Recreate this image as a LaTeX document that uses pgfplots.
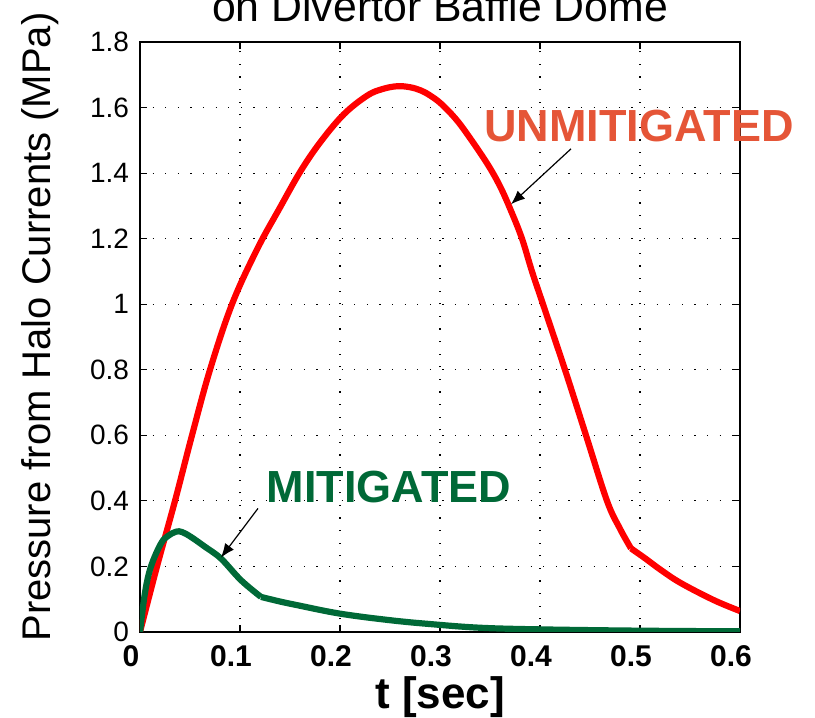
\documentclass[border=0pt]{standalone}
\usepackage{fontspec}
\setmainfont{Liberation Sans}
\usepackage{pgfplots}
\pgfplotsset{compat=1.18}
\usetikzlibrary{arrows.meta,calc}

\definecolor{unmitred}{RGB}{255,0,0}
\definecolor{mitgreen}{RGB}{0,105,55}
\definecolor{labelorange}{RGB}{229,85,55}

\begin{document}
\begin{tikzpicture}
\begin{axis}[
    name=ax,
    scale only axis,
    width=300pt, height=295pt,
    xmin=0, xmax=0.6,
    ymin=0, ymax=1.8,
    xtick={0,0.1,...,0.6},
    ytick={0,0.2,...,1.8},
    clip mode=individual,
    tick align=inside,
    major tick length=3.5pt,
    axis line style={black, line width=0.8pt},
    every tick/.style={black, line width=0.6pt},
    grid=major,
    grid style={black, line width=0.6pt, dash pattern=on 0.6pt off 5.7pt},
    /pgf/number format/assume math mode=true,
    yticklabel style={font=\fontsize{14}{14}\selectfont, xshift=-2pt},
    xticklabel style={font=\bfseries\fontsize{15}{15}\selectfont, xshift=-4.5pt, yshift=-3pt},
    xlabel={t [sec]},
    xlabel style={font=\bfseries\fontsize{22}{22}\selectfont,
        at={(axis description cs:0.5,-0.129)}, anchor=base},
    ylabel={Pressure from Halo Currents (MPa)},
    ylabel style={font=\fontsize{20}{20}\selectfont,
        at={(axis description cs:-0.1667,0.517)}, anchor=center},
]
% unmitigated, rise and fall up to the knee
\addplot[unmitred, line width=3.1pt, smooth, tension=0.6] coordinates {
    (0,0) (0.017,0.2) (0.035,0.4) (0.052,0.6) (0.070,0.8)
    (0.092,1.0) (0.117,1.167) (0.14,1.295) (0.161,1.408)
    (0.181,1.497) (0.204,1.580) (0.227,1.636) (0.242,1.656)
    (0.257,1.665) (0.270,1.662) (0.281,1.652) (0.290,1.637)
    (0.301,1.612) (0.315,1.568) (0.327,1.52) (0.347,1.43)
    (0.360,1.36) (0.371,1.285) (0.382,1.2) (0.392,1.10)
    (0.403,1.0) (0.425,0.8) (0.446,0.6) (0.467,0.4)
    (0.480,0.315) (0.491,0.255)
};
% unmitigated, tail after the knee
\addplot[unmitred, line width=3.1pt, smooth, tension=0.6] coordinates {
    (0.491,0.255) (0.505,0.225) (0.521,0.189) (0.541,0.149)
    (0.574,0.097) (0.6,0.064)
};
% mitigated, up to the knee
\addplot[mitgreen, line width=3.1pt, smooth, tension=0.6] coordinates {
    (0,0) (0.005,0.12) (0.011,0.2) (0.021,0.27) (0.028,0.293)
    (0.036,0.306) (0.042,0.305) (0.051,0.29) (0.065,0.26)
    (0.081,0.224) (0.101,0.158) (0.121,0.107)
};
% mitigated, tail
\addplot[mitgreen, line width=3.1pt, smooth, tension=0.6] coordinates {
    (0.121,0.107) (0.14,0.093)
    (0.157,0.082) (0.2,0.056) (0.25,0.036) (0.291,0.024)
    (0.34,0.013) (0.4,0.008) (0.5,0.004) (0.6,0.002)
};

\node[font=\bfseries\fontsize{22.5}{22.5}\selectfont, text=labelorange]
    at (axis cs:0.499,1.543) {UNMITIGATED};
\node[font=\bfseries\fontsize{22.5}{22.5}\selectfont, text=mitgreen]
    at (axis cs:0.249,0.441) {MITIGATED};

\draw[black, line width=0.6pt, -{Latex[length=7pt,width=5.5pt]}]
    (axis cs:0.431,1.474) -- (axis cs:0.371,1.305);
\draw[black, line width=0.6pt, -{Latex[length=7pt,width=5.5pt]}]
    (axis cs:0.118,0.377) -- (axis cs:0.081,0.227);
\end{axis}

\node[font=\fontsize{21.4}{21.4}\selectfont, anchor=base]
    at ($(ax.north west)+(150pt,10pt)$) {on Divertor Baffle Dome};

\pgfresetboundingbox
\path[use as bounding box] ($(ax.south west)+(-70pt,-43pt)$)
    rectangle ($(ax.south west)+(337.5pt,316pt)$);
\end{tikzpicture}
\end{document}
